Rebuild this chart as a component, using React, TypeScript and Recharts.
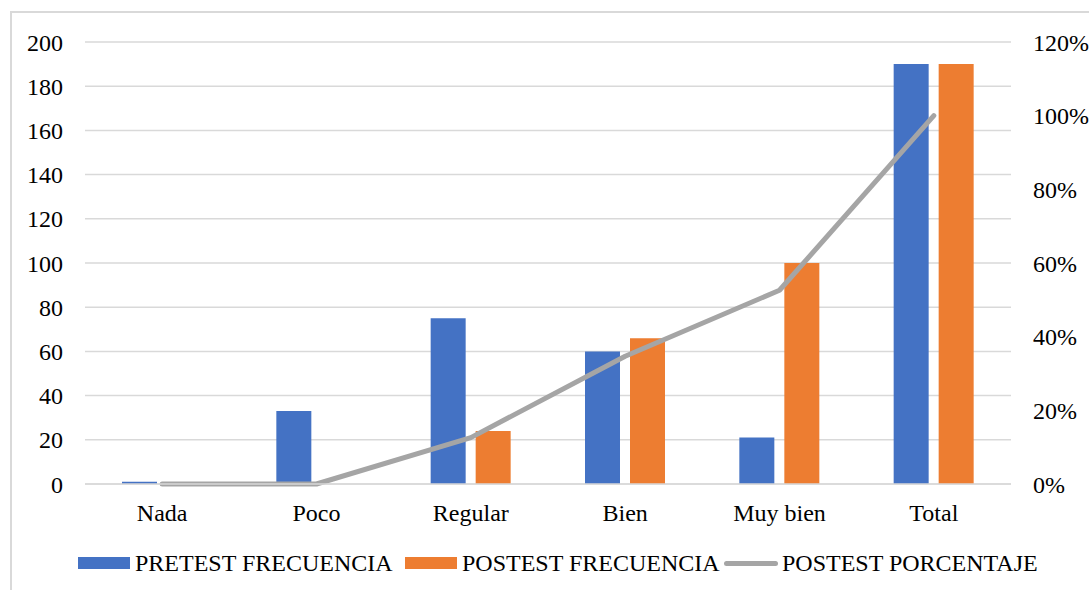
import { Bar, CartesianGrid, ComposedChart, Line, XAxis, YAxis } from "recharts";

const categories = ["Nada", "Poco", "Regular", "Bien", "Muy bien", "Total"];
const pretestFrecuencia = [1, 33, 75, 60, 21, 190];
const postestFrecuencia = [0, 0, 24, 66, 100, 190];
const postestPorcentaje = [0, 0, 0.126, 0.347, 0.526, 1.0];

const leftTicks = [0, 20, 40, 60, 80, 100, 120, 140, 160, 180, 200];
const rightTicks = [0, 0.2, 0.4, 0.6, 0.8, 1.0, 1.2];

// legend items: swatch left x, text left x
const series = [
  { key: "pre", label: "PRETEST FRECUENCIA", color: "#4472C4", kind: "bar", x: 78, tx: 135 },
  { key: "post", label: "POSTEST FRECUENCIA", color: "#ED7D31", kind: "bar", x: 405, tx: 462 },
  { key: "pct", label: "POSTEST PORCENTAJE", color: "#A5A5A5", kind: "line", x: 724, tx: 782 },
];

const data = categories.map((name, i) => ({
  name,
  pre: pretestFrecuencia[i],
  post: postestFrecuencia[i],
  pct: postestPorcentaje[i],
}));

const FONT = '"Liberation Serif", "Times New Roman", serif';
const tick = { fontSize: 24, fontFamily: FONT, fill: "#000" };

const makeTick = (anchor: "start" | "end", fmt: (v: number) => string) => (props: any) => {
  const { x, y, payload } = props;
  return (
    <text
      x={x}
      y={y}
      dy="0.355em"
      textAnchor={anchor}
      fontFamily={FONT}
      fontSize={24}
      fill="#000"
    >
      {fmt(payload.value)}
    </text>
  );
};

const leftTick = makeTick("end", (v) => String(v));
const rightTick = makeTick("start", (v) => `${Math.round(v * 100)}%`);

export default function App() {
  return (
    <div
      style={{
        position: "absolute",
        left: 0,
        top: 0,
        width: 1089,
        height: 590,
        overflow: "hidden",
        background: "#fff",
        fontFamily: FONT,
      }}
    >
      <div
        style={{
          position: "absolute",
          left: 10,
          top: 11,
          width: 1100,
          height: 600,
          border: "2px solid #D9D9D9",
        }}
      />
      <div style={{ position: "absolute", left: 0, top: 0 }}>
        <ComposedChart
          width={1089}
          height={590}
          data={data}
          margin={{ top: 42, right: 0, left: 0, bottom: 66 }}
          barSize={35}
          barGap={10}
        >
          <CartesianGrid yAxisId="left" stroke="#D9D9D9" strokeWidth={1.5} vertical={false} />
          <XAxis
            dataKey="name"
            height={40}
            tick={tick}
            tickLine={false}
            tickSize={0}
            tickMargin={20}
            axisLine={{ stroke: "#D9D9D9", strokeWidth: 1.5 }}
            interval={0}
          />
          <YAxis
            yAxisId="left"
            width={85}
            domain={[0, 200]}
            ticks={leftTicks}
            tick={leftTick}
            tickLine={false}
            axisLine={false}
            tickSize={0}
            tickMargin={22}
            interval={0}
          />
          <YAxis
            yAxisId="right"
            orientation="right"
            width={78}
            domain={[0, 1.2]}
            ticks={rightTicks}
            tick={rightTick}
            tickLine={false}
            axisLine={false}
            tickSize={0}
            tickMargin={22}
            interval={0}
          />
          <Bar yAxisId="left" dataKey="pre" fill="#4472C4" isAnimationActive={false} />
          <Bar yAxisId="left" dataKey="post" fill="#ED7D31" isAnimationActive={false} />
          <Line
            yAxisId="right"
            type="linear"
            dataKey="pct"
            stroke="#A5A5A5"
            strokeWidth={5}
            strokeLinecap="round"
            strokeLinejoin="round"
            dot={false}
            activeDot={false}
            isAnimationActive={false}
          />
        </ComposedChart>
      </div>
      {series.map((s) => (
        <div key={s.key}>
          {s.kind === "bar" ? (
            <span
              style={{ position: "absolute", left: s.x, top: 557, width: 52, height: 12, background: s.color }}
            />
          ) : (
            <span
              style={{
                position: "absolute",
                left: s.x,
                top: 561,
                width: 54,
                height: 5,
                borderRadius: 3,
                background: s.color,
              }}
            />
          )}
          <span
            style={{
              position: "absolute",
              left: s.tx,
              top: 551,
              fontSize: 24,
              lineHeight: "24px",
              color: "#000",
              whiteSpace: "nowrap",
            }}
          >
            {s.label}
          </span>
        </div>
      ))}
    </div>
  );
}
